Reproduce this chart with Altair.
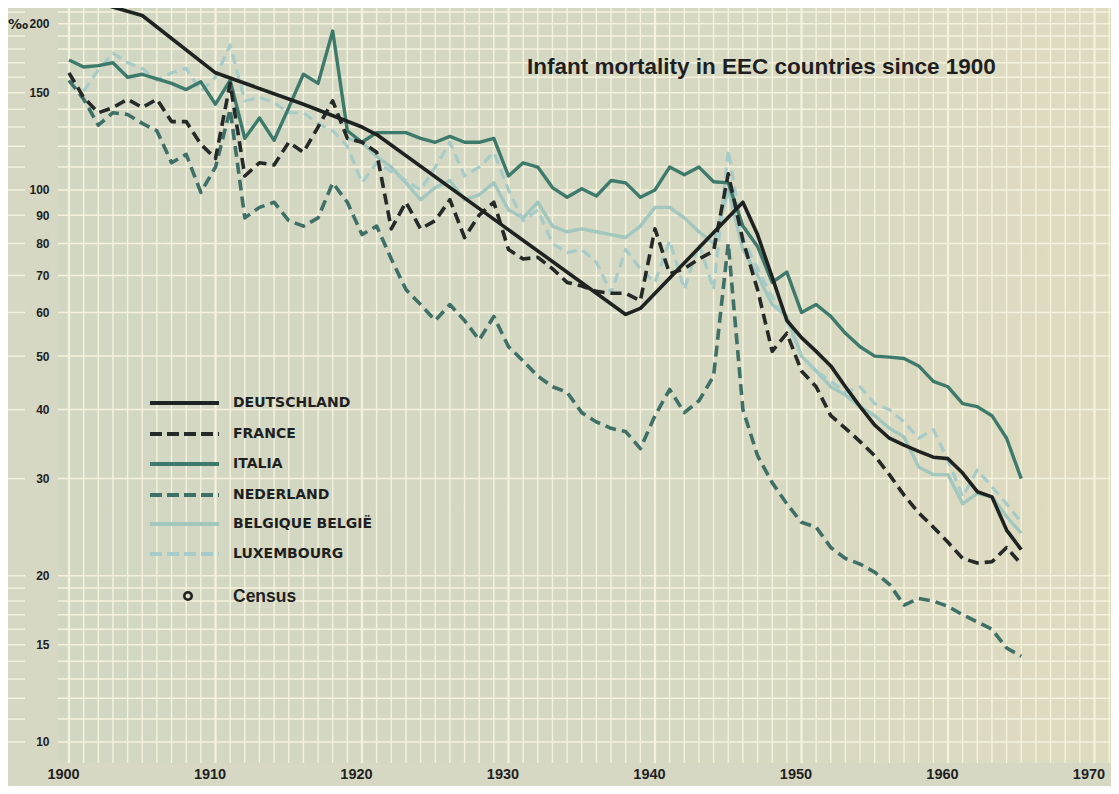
import altair as alt
import pandas as pd

# ---------------- data ----------------
years = list(range(1900, 1966))

france = [163, 147, 138, 141, 146, 141, 146, 133, 133, 121,
          114, 156, 106, 112, 111, 122, 117, 130, 145, 124,
          122, 117, 85, 95, 85, 88, 96, 82, 90, 95,
          78, 75, 75.5, 72, 68, 67, 65.5, 65, 65, 63,
          85, 70.5, 72, 75, 77.5, 107, 81, 66, 51, 55,
          47, 44, 39, 37, 35, 33, 30.5, 28, 26, 24.5,
          23, 21.5, 21.1, 21.2, 22.5, 21]

italia = [172, 167, 168, 170, 160, 162, 159, 156, 152, 157,
          143, 158, 124, 135, 123, 141, 162, 156, 194, 128,
          122, 127, 127, 127, 124, 122, 125, 122, 122, 124,
          106, 112, 110, 101, 97, 100.5, 97.5, 104, 103, 97,
          100, 110, 106.5, 110, 103.5, 103, 86, 79, 68, 71,
          60, 62, 59, 55, 52, 50, 49.8, 49.5, 48, 45,
          44, 41, 40.5, 39, 35.5, 30]

nederland = [158, 146, 131, 138, 137, 132, 128, 112, 116, 99,
             110, 140, 89, 93, 95, 88, 86, 89, 103, 95,
             83, 86, 75, 66, 62, 58, 62, 58, 53.5, 59,
             52, 49, 46, 44, 43, 39.5, 38, 37, 36.5, 34,
             39, 43.5, 39.5, 41.5, 46, 80, 40, 33, 29.5, 27,
             25, 24.5, 22.5, 21.5, 21, 20.3, 19.3, 17.7, 18.2, 18,
             17.6, 17, 16.5, 16, 14.8, 14.3]

be_years = list(range(1919, 1966))
belgique = [124,
            122, 115, 110, 103, 96, 101, 104, 96, 98, 103,
            92, 89, 95, 86, 84, 85, 84, 83, 82, 86,
            93, 93, 89, 84, 80, 100, 78, 70, 62, 59,
            50, 47, 44, 42.5, 40.5, 39, 37, 35.7, 31.5, 30.5,
            30.5, 27, 28.2, 27.8, 25.6, 23.9]

lux_years = list(range(1901, 1966))
luxembourg = [151, 165, 177, 170, 166, 158, 163, 166, 151,
              160, 183, 145, 147, 144, 138, 138, 132, 128, 120,
              103, 112, 108, 104, 100, 110, 122, 106, 110, 117,
              100, 88, 92, 80, 77, 78, 74, 65, 78, 72,
              68, 81, 66, 80, 66, 118, 82, 72, 64, 58,
              50, 47, 45, 43, 44, 41, 40, 38, 35.5, 36.8,
              32.4, 27.8, 31.1, 29, 27, 25]

de_years = [1900, 1905, 1910, 1916, 1920, 1921, 1938, 1939] + list(range(1946, 1966))
deutschland = [226, 207, 163, 143, 130, 126, 59.5, 61,
               95, 83, 69.5, 58, 54, 51, 48, 44, 40.5, 37.5,
               35.5, 34.5, 33.6, 32.8, 32.6, 30.7, 28.4, 27.8, 24.2, 22.3]
de_gap_years = [1939, 1946]
de_gap = [61, 95]

names = ["DEUTSCHLAND", "FRANCE", "ITALIA", "NEDERLAND", "BELGIQUE BELGIË", "LUXEMBOURG"]
colors = ["#1e2321", "#252927", "#3d7a6c", "#3f7068", "#a2c7bf", "#a6cbc8"]
dashes = [None, [11, 6], None, [11, 6], None, [10, 6]]
widths = [3.6, 3.6, 3.4, 3.6, 3.4, 3.2]

x_ticks = list(range(1900, 1971, 10))
y_ticks = [10, 15, 20, 30, 40, 50, 60, 70, 80, 90, 100, 150, 200]
grid_y = list(range(10, 20)) + list(range(20, 100, 10)) + list(range(100, 220, 10))
grid_x = list(range(1900, 1972))

TITLE = "Infant mortality in EEC countries since 1900"

# ---------------- layout ----------------
W, H = 1053, 755
GRID = "#f4f2dd"
INK = "#1f1f1f"

x_scale = alt.Scale(domain=[1899.249, 1971.127], nice=False, zero=False)
y_scale = alt.Scale(type="log", domain=[9.16, 213.6], nice=False)

x_axis = alt.Axis(values=x_ticks, format="d", title=None, grid=False, ticks=False,
                  domain=False, labelFontSize=14.5, labelFontWeight="bold",
                  labelFont="Liberation Sans", labelColor=INK, labelPadding=4,
                  labelOffset=-6, labelFlush=False)
y_axis = alt.Axis(values=y_ticks, format="d", title=None, grid=False, ticks=False,
                  domain=False, labelFontSize=12, labelFontWeight="bold",
                  labelFont="Liberation Sans", labelColor=INK, labelPadding=9)


def X(field):
    return alt.X(field, type="quantitative", scale=x_scale, axis=x_axis)


def Y(field):
    return alt.Y(field, type="quantitative", scale=y_scale, axis=y_axis)


layers = []

# background wash (greenish left, beige right)
bg = alt.Chart(pd.DataFrame({"a": [0]})).mark_rect(
    color=alt.Gradient(
        gradient="linear",
        stops=[alt.GradientStop(color="#d2d7c3", offset=0),
               alt.GradientStop(color="#d5d8c2", offset=0.55),
               alt.GradientStop(color="#dfdbc0", offset=1)],
        x1=0, x2=1, y1=0, y2=0)
).encode(x=alt.value(0), x2=alt.value(W), y=alt.value(0), y2=alt.value(H))
layers.append(bg)

# grid
hdf = pd.DataFrame({"v": grid_y})
layers.append(alt.Chart(hdf).mark_rule(color=GRID, strokeWidth=1.5).encode(
    y=Y("v"), x=alt.value(0), x2=alt.value(W)))
layers.append(alt.Chart(hdf).mark_rule(color=GRID, strokeWidth=1.5, clip=False).encode(
    y=Y("v"), x=alt.value(-50), x2=alt.value(-33)))
vdf = pd.DataFrame({"yr": grid_x})
layers.append(alt.Chart(vdf).mark_rule(color=GRID).encode(
    x=X("yr"), y=alt.value(0), y2=alt.value(H),
    strokeWidth=alt.condition("datum.yr % 10 == 0", alt.value(2.3), alt.value(1.4))))

# series
series = {
    "DEUTSCHLAND": (de_years, deutschland),
    "FRANCE": (years, france),
    "ITALIA": (years, italia),
    "NEDERLAND": (years, nederland),
    "BELGIQUE BELGIË": (be_years, belgique),
    "LUXEMBOURG": (lux_years, luxembourg),
}
draw_order = ["BELGIQUE BELGIË", "LUXEMBOURG", "NEDERLAND", "ITALIA", "FRANCE", "DEUTSCHLAND"]
for name in draw_order:
    i = names.index(name)
    yrs, vals = series[name]
    df = pd.DataFrame({"year": yrs, "value": vals})
    kw = dict(color=colors[i], strokeWidth=widths[i], clip=True, strokeJoin="round")
    if dashes[i]:
        kw["strokeDash"] = dashes[i]
    layers.append(alt.Chart(df).mark_line(**kw).encode(x=X("year"), y=Y("value")))
    if name == "DEUTSCHLAND":
        gdf = pd.DataFrame({"year": de_gap_years, "value": de_gap})
        layers.append(alt.Chart(gdf).mark_line(color=colors[0], strokeWidth=1.4).encode(
            x=X("year"), y=Y("value")))

# legend
leg_y = [395, 426, 456, 487, 516, 546]
for i, name in enumerate(names):
    d = pd.DataFrame({"n": [name]})
    kw = dict(color=colors[i], strokeWidth=4)
    if dashes[i]:
        kw["strokeDash"] = [12, 5]
    layers.append(alt.Chart(d).mark_rule(**kw).encode(
        x=alt.value(92), x2=alt.value(161), y=alt.value(leg_y[i])))
    layers.append(alt.Chart(d).mark_text(
        align="left", baseline="middle", font="DejaVu Sans", fontWeight="bold",
        fontSize=14, color=INK).encode(text="n:N", x=alt.value(175), y=alt.value(leg_y[i])))

cdf = pd.DataFrame({"n": ["Census"]})
layers.append(alt.Chart(cdf).mark_point(shape="circle", size=55, strokeWidth=2.6,
                                         color=INK, opacity=1, filled=False).encode(
    x=alt.value(130), y=alt.value(588)))
layers.append(alt.Chart(cdf).mark_text(
    align="left", baseline="middle", font="Liberation Sans", fontWeight="bold",
    fontSize=17.5, color=INK).encode(text="n:N", x=alt.value(175), y=alt.value(589)))

# title and per-mille sign
tdf = pd.DataFrame({"t": [TITLE]})
layers.append(alt.Chart(tdf).mark_text(
    align="left", baseline="middle", font="Liberation Sans", fontWeight="bold",
    fontSize=22.5, color=INK).encode(text="t:N", x=alt.value(469), y=alt.value(59)))
pdf = pd.DataFrame({"t": ["‰"]})
layers.append(alt.Chart(pdf).mark_text(
    align="center", baseline="middle", font="DejaVu Sans", fontWeight="bold",
    fontSize=14, color=INK, clip=False).encode(text="t:N", x=alt.value(-40), y=alt.value(17)))

chart = alt.layer(*layers).properties(
    width=W, height=H,
    padding={"left": 50, "top": 0, "right": 0, "bottom": 23},
    autosize=alt.AutoSizeParams(type="none"),
).configure(background="#d6d8c4").configure_view(strokeWidth=0)

chart.save("out.html", embed_options={"renderer": "svg", "actions": False})
